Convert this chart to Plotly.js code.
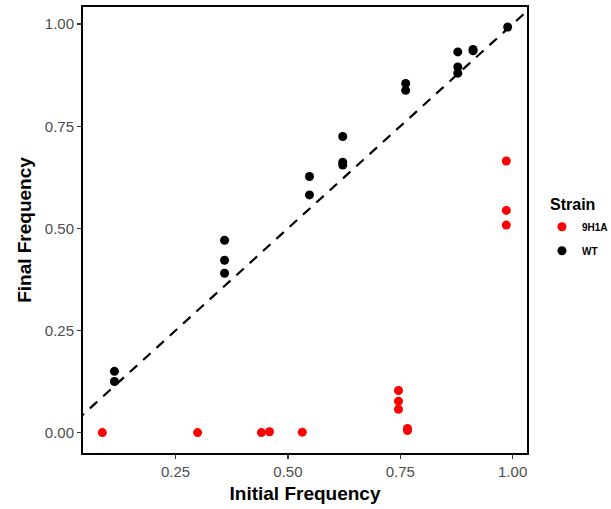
<!DOCTYPE html>
<html>
<head>
<meta charset="utf-8">
<script src="https://cdn.plot.ly/plotly-3.0.1.min.js"></script>
<style>html,body{margin:0;padding:0;background:#fff;}#chart{width:611px;height:509px;}</style>
</head>
<body>
<div id="chart"></div>
<script>
// 9H1A strain
const mutantInitial = [0.087, 0.299, 0.441, 0.459, 0.532, 0.746, 0.746, 0.746, 0.766, 0.766, 0.986, 0.986, 0.986];
const mutantFinal   = [0.000, 0.000, 0.000, 0.002, 0.001, 0.103, 0.077, 0.057, 0.005, 0.010, 0.665, 0.544, 0.508];
// WT strain
const wtInitial = [0.114, 0.114, 0.359, 0.359, 0.359, 0.548, 0.548, 0.622, 0.622, 0.622, 0.762, 0.762, 0.878, 0.878, 0.878, 0.912, 0.912, 0.989];
const wtFinal   = [0.150, 0.125, 0.471, 0.422, 0.390, 0.627, 0.582, 0.725, 0.655, 0.662, 0.855, 0.838, 0.932, 0.895, 0.880, 0.935, 0.938, 0.993];
// identity reference line (y = x)
const identityLine = [0, 1.2];
const xTicks = [0.25, 0.50, 0.75, 1.00];
const yTicks = [0.00, 0.25, 0.50, 0.75, 1.00];
const tickText = v => v.toFixed(2);

const traces = [
  {x: identityLine, y: identityLine, mode: 'lines', showlegend: false, hoverinfo: 'skip',
   line: {color: '#000', width: 2.2, dash: '10px,8px'}},
  {x: mutantInitial, y: mutantFinal, mode: 'markers', name: '9H1A', legendgroup: 'g1',
   marker: {color: '#ff0000', size: 9}},
  {x: wtInitial, y: wtFinal, mode: 'markers', name: 'WT', legendgroup: 'g2',
   marker: {color: '#000000', size: 9}}
];

const FONT = 'Liberation Sans, Arial, sans-serif';
const axisCommon = {
  showgrid: false, zeroline: false, showline: true, mirror: true, automargin: false,
  linecolor: '#000', linewidth: 2, ticks: 'outside', ticklen: 4, tickwidth: 1.5, tickcolor: '#333',
  tickfont: {family: FONT, size: 15, color: '#4d4d4d'}
};

const layout = {
  width: 611, height: 509,
  margin: {l: 83, r: 84, t: 7, b: 56},
  paper_bgcolor: '#fff', plot_bgcolor: '#fff',
  xaxis: Object.assign({}, axisCommon, {
    range: [0.044, 1.032], tickvals: xTicks, ticktext: xTicks.map(tickText),
    title: {text: 'Initial Frequency', standoff: 8,
      font: {family: FONT, size: 19, color: '#000', weight: 'bold'}}
  }),
  yaxis: Object.assign({}, axisCommon, {
    range: [-0.05, 1.042], tickvals: yTicks, ticktext: yTicks.map(tickText),
    title: {text: 'Final Frequency', standoff: 8,
      font: {family: FONT, size: 19, color: '#000', weight: 'bold'}}
  }),
  annotations: [{
    text: '<b>Strain</b>', xref: 'paper', yref: 'paper', x: 1.048, y: 0.558,
    xanchor: 'left', yanchor: 'middle', showarrow: false,
    font: {family: FONT, size: 16, color: '#000'}
  }],
  legend: {
    xref: 'container', yref: 'container',
    x: 0.887, xanchor: 'left', y: 0.583, yanchor: 'top',
    font: {family: FONT, size: 10, color: '#000', weight: 'bold'},
    itemsizing: 'trace', tracegroupgap: 5
  },
  showlegend: true
};

Plotly.newPlot('chart', traces, layout, {displayModeBar: false, staticPlot: true});
</script>
</body>
</html>
